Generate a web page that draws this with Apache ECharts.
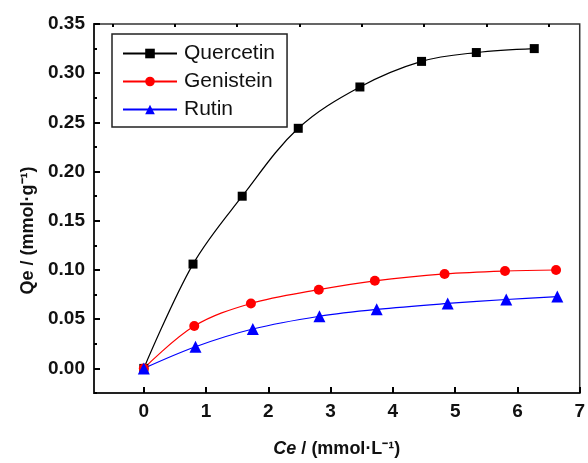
<!DOCTYPE html>
<html>
<head>
<meta charset="utf-8">
<script src="https://cdn.jsdelivr.net/npm/echarts@6/dist/echarts.min.js"></script>
<style>
  html, body { margin: 0; padding: 0; background: #fff; }
  #chart { width: 588px; height: 463px; }
</style>
</head>
<body>
<div id="chart"></div>
<script>
(function () {
    'use strict';

    // adsorption isotherm data, Ce (mmol/L) vs Qe (mmol/g)
    var quercetinCe = [0, 0.79, 1.58, 2.48, 3.47, 4.46, 5.34, 6.27];
    var quercetinQe = [0, 0.106, 0.175, 0.244, 0.286, 0.312, 0.321, 0.325];
    var genisteinCe = [0, 0.81, 1.72, 2.81, 3.71, 4.83, 5.80, 6.62];
    var genisteinQe = [0, 0.043, 0.066, 0.080, 0.089, 0.096, 0.099, 0.100];
    var rutinCe = [0, 0.83, 1.75, 2.82, 3.74, 4.88, 5.82, 6.64];
    var rutinQe = [0, 0.022, 0.040, 0.053, 0.060, 0.066, 0.070, 0.073];

    var seriesNames = ['Quercetin', 'Genistein', 'Rutin'];
    var xMajor = [0, 1, 2, 3, 4, 5, 6, 7];
    var xMinor = [-0.5, 0.5, 1.5, 2.5, 3.5, 4.5, 5.5, 6.5];
    var yMajor = [0, 0.05, 0.10, 0.15, 0.20, 0.25, 0.30, 0.35];
    var yMinor = [-0.025, 0.025, 0.075, 0.125, 0.175, 0.225, 0.275, 0.325];

    function pairs(xs, ys) {
        return xs.map(function (x, i) { return [x, ys[i]]; });
    }

    var FONT = '"Liberation Sans", Arial, sans-serif';
    var tickLabel = { fontFamily: FONT, fontWeight: 'bold', fontSize: 19, color: '#111' };

    function xAxisDef(values, len, withLabels, idx) {
        return {
            type: 'value', min: -0.8, max: 7,
            axisLine: { show: idx === 0, onZero: false, lineStyle: { color: '#222', width: 2 } },
            axisTick: { show: true, inside: true, length: len, customValues: values,
                        lineStyle: { color: '#000', width: 2 } },
            axisLabel: withLabels ? Object.assign({ customValues: values, margin: 9 }, tickLabel)
                                  : { show: false },
            splitLine: { show: false }
        };
    }

    function yAxisDef(values, len, withLabels, idx) {
        return {
            type: 'value', min: -0.025, max: 0.35,
            position: 'left',
            axisLine: { show: idx === 0, onZero: false, lineStyle: { color: '#222', width: 2 } },
            axisTick: { show: true, inside: true, length: len, customValues: values,
                        lineStyle: { color: '#000', width: 2 } },
            axisLabel: withLabels ? Object.assign({
                customValues: values, margin: 9,
                formatter: function (v) { return v.toFixed(2); }
            }, tickLabel) : { show: false },
            splitLine: { show: false }
        };
    }

    var xMain = xAxisDef(xMajor, 6, true, 0);
    xMain.name = '{it|Ce} / (mmol·L⁻¹)';
    xMain.nameLocation = 'middle';
    xMain.nameGap = 47;
    xMain.nameTextStyle = {
        fontFamily: FONT, fontWeight: 'bold', fontSize: 18, color: '#111',
        rich: { it: { fontFamily: FONT, fontWeight: 'bold', fontStyle: 'italic', fontSize: 18, color: '#111' } }
    };

    var yMain = yAxisDef(yMajor, 6, true, 0);
    yMain.name = 'Qe / (mmol·g⁻¹)';
    yMain.nameLocation = 'middle';
    yMain.nameGap = 56;
    yMain.nameTextStyle = { fontFamily: FONT, fontWeight: 'bold', fontSize: 18, color: '#111',
                            padding: [0, 44, 0, 0] };

    function lineSeries(name, data, color, symbol, size) {
        return {
            name: name,
            type: 'line',
            smooth: 0.35,
            data: data,
            symbol: symbol,
            symbolSize: size,
            showAllSymbol: true,
            lineStyle: { color: color, width: 1.2 },
            itemStyle: { color: color },
            z: 3
        };
    }

    var chart = echarts.init(document.getElementById('chart'), null, { renderer: 'canvas' });
    chart.setOption({
        backgroundColor: '#fff',
        animation: false,
        grid: { left: 94, right: 7, top: 24, bottom: 66, show: true,
                borderColor: '#333', borderWidth: 1.5, containLabel: false },
        legend: {
            data: seriesNames,
            orient: 'vertical',
            left: 112, top: 34,
            padding: [9, 12, 7, 10],
            itemWidth: 54, itemHeight: 12, itemGap: 7,
            borderColor: '#222', borderWidth: 1.5,
            textStyle: { fontFamily: FONT, fontSize: 21, color: '#111', padding: [0, 0, 0, 2] }
        },
        xAxis: [xMain, xAxisDef(xMinor, 3, false, 1)],
        yAxis: [yMain, yAxisDef(yMinor, 3, false, 1)],
        series: [
            lineSeries(seriesNames[0], pairs(quercetinCe, quercetinQe), '#000000', 'rect', 9),
            lineSeries(seriesNames[1], pairs(genisteinCe, genisteinQe), '#ff0000', 'circle', 10),
            lineSeries(seriesNames[2], pairs(rutinCe, rutinQe), '#0000ff', 'triangle', 12)
        ]
    });
})();
</script>
</body>
</html>
